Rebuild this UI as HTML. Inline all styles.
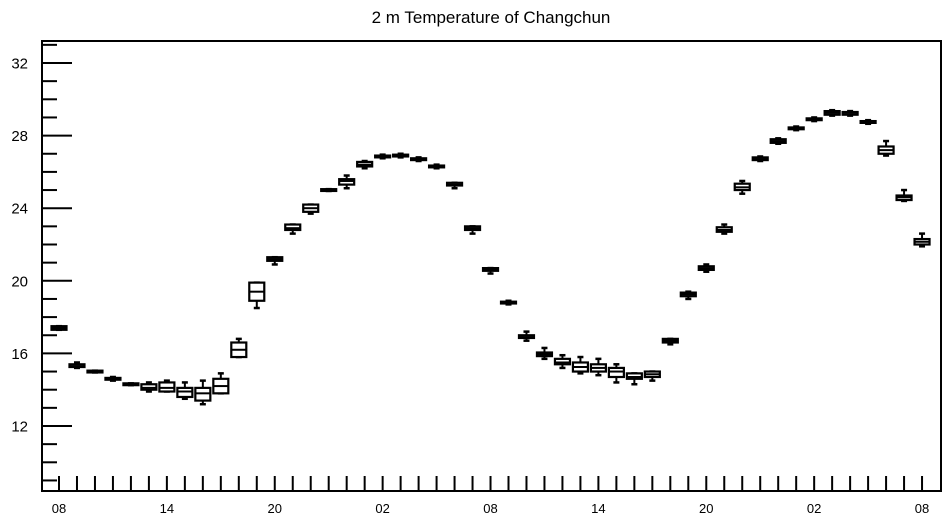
<!DOCTYPE html>
<html><head><meta charset="utf-8"><style>
html,body{margin:0;padding:0;background:#fff;}
svg{display:block;font-family:"Liberation Sans",sans-serif;}
</style></head><body>
<svg id="chart" width="947" height="520" viewBox="0 0 947 520">
<text x="491" y="23" font-size="17" text-anchor="middle" fill="#000">2 m Temperature of Changchun</text>
<g id="axes"></g>
<g id="boxes"></g>
<rect x="42" y="41" width="899" height="450" fill="none" stroke="#000" stroke-width="2"/>
</svg>
<script>
const xLabels = ["08","14","20","02","08","14","20","02","08"];
const yTicks = [12,16,20,24,28,32];
const median = [17.4,15.3,15.0,14.6,14.3,14.1,14.1,13.9,13.8,14.2,16.2,19.4,21.2,22.9,24.0,25.0,25.5,26.4,26.85,26.9,26.7,26.3,25.3,22.9,20.6,18.8,16.9,15.95,15.5,15.25,15.2,15.0,14.7,14.85,16.7,19.25,20.7,22.8,25.15,26.7,27.7,28.4,28.9,29.25,29.25,28.75,27.2,24.6,22.15];
const q1 = [17.3,15.25,14.95,14.55,14.25,14.0,13.9,13.6,13.4,13.8,15.8,18.9,21.1,22.8,23.8,24.95,25.3,26.3,26.8,26.85,26.65,26.25,25.25,22.8,20.55,18.75,16.85,15.85,15.4,15.0,15.0,14.7,14.6,14.7,16.6,19.15,20.6,22.7,25.0,26.65,27.6,28.35,28.85,29.15,29.15,28.7,27.0,24.45,22.0];
const q3 = [17.5,15.4,15.05,14.65,14.35,14.3,14.4,14.1,14.1,14.6,16.6,19.9,21.3,23.1,24.2,25.05,25.6,26.55,26.9,26.95,26.75,26.35,25.4,23.0,20.7,18.85,17.0,16.05,15.7,15.5,15.4,15.2,14.9,15.0,16.8,19.35,20.8,22.95,25.35,26.8,27.8,28.45,28.95,29.35,29.3,28.8,27.4,24.7,22.3];
const lo = [17.3,15.2,14.95,14.5,14.25,13.9,13.9,13.5,13.2,13.8,15.8,18.5,20.9,22.6,23.7,24.95,25.1,26.2,26.75,26.8,26.6,26.2,25.1,22.6,20.4,18.7,16.7,15.7,15.2,14.9,14.8,14.4,14.3,14.5,16.5,19.0,20.5,22.6,24.8,26.6,27.55,28.3,28.8,29.1,29.1,28.65,26.9,24.4,21.9];
const hi = [17.5,15.5,15.05,14.7,14.35,14.4,14.5,14.4,14.5,14.9,16.8,19.9,21.3,23.1,24.2,25.05,25.8,26.6,26.95,27.0,26.8,26.4,25.4,23.0,20.7,18.9,17.2,16.3,15.9,15.8,15.7,15.4,14.9,15.0,16.8,19.4,20.9,23.1,25.5,26.85,27.85,28.5,29.0,29.4,29.35,28.85,27.7,25.0,22.6];

const NS="http://www.w3.org/2000/svg";
const X0=59, PXH=17.98;
function xPos(h){return X0+h*PXH;}
function yPos(v){return 63+(32-v)*18.15;}
function mk(tag,attrs,parent){const e=document.createElementNS(NS,tag);for(const k in attrs)e.setAttribute(k,attrs[k]);parent.appendChild(e);return e;}
const axes=document.getElementById('axes');
for(let v=9;v<=33;v++){
  const major=yTicks.indexOf(v)>=0;
  const t=mk('line',{x1:42,x2:major?72:57,y1:yPos(v),y2:yPos(v),stroke:'#000','stroke-width':2},axes);
  
  
}
yTicks.forEach(v=>{
  const t=mk('text',{x:28,y:yPos(v)+5.5,'font-size':15,'text-anchor':'end'},axes);
  t.textContent=String(v);
  
  
});
for(let h=0;h<median.length;h++){
  const t=mk('line',{x1:xPos(h),x2:xPos(h),y1:476,y2:491,stroke:'#000','stroke-width':2},axes);
  
  
}
xLabels.forEach((s,i)=>{
  const t=mk('text',{x:xPos(i*6),y:513,'font-size':13,'text-anchor':'middle'},axes);
  t.textContent=s;
  
  
});
const boxes=document.getElementById('boxes');
const W=15;
median.forEach((m,i)=>{
  const g=mk('g',{},boxes);
  
  
  const x=xPos(i);
  mk('line',{x1:x,x2:x,y1:yPos(hi[i]),y2:yPos(q3[i]),stroke:'#000','stroke-width':2},g);
  mk('line',{x1:x,x2:x,y1:yPos(q1[i]),y2:yPos(lo[i]),stroke:'#000','stroke-width':2},g);
  mk('line',{x1:x-3,x2:x+3,y1:yPos(hi[i]),y2:yPos(hi[i]),stroke:'#000','stroke-width':2.5},g);
  mk('line',{x1:x-3,x2:x+3,y1:yPos(lo[i]),y2:yPos(lo[i]),stroke:'#000','stroke-width':2.5},g);
  const yt=yPos(q3[i]), yb=yPos(q1[i]);
  mk('rect',{x:x-W/2,y:yt,width:W,height:Math.max(yb-yt,1),fill:'#fff',stroke:'#000','stroke-width':2.2},g);
  mk('line',{x1:x-W/2,x2:x+W/2,y1:yPos(m),y2:yPos(m),stroke:'#000','stroke-width':2},g);
});
</script>
</body></html>
